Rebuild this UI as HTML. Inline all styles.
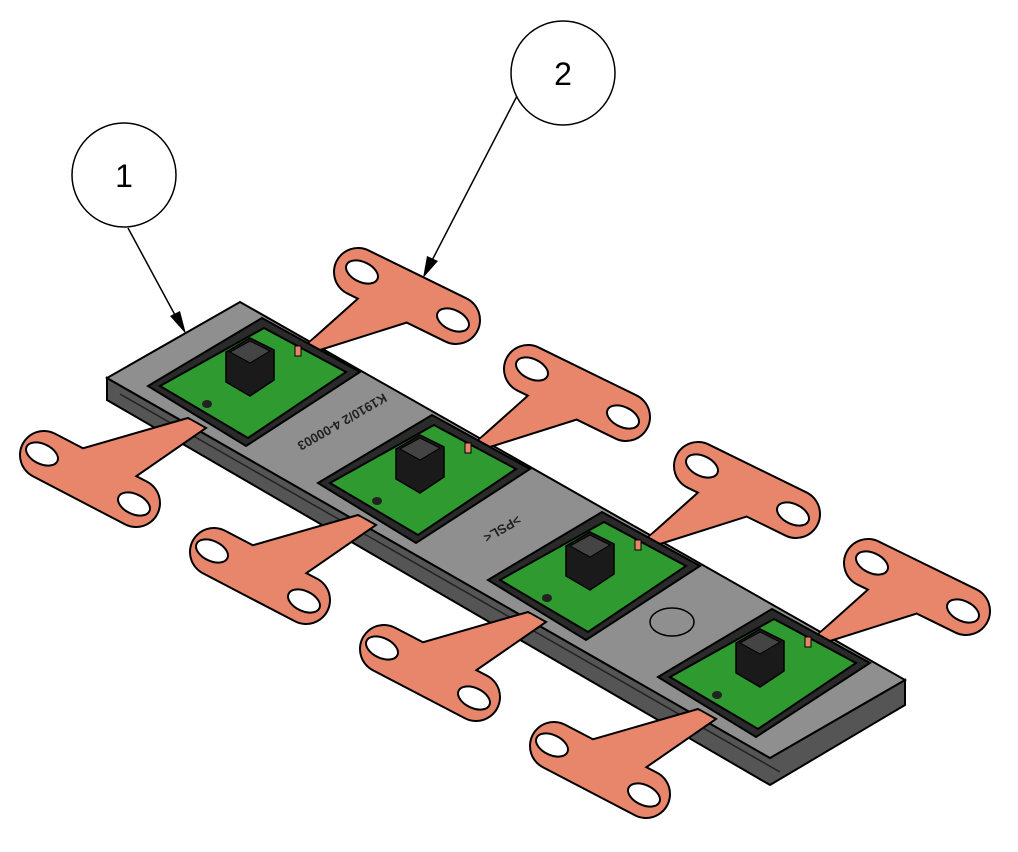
<!DOCTYPE html>
<html><head><meta charset="utf-8"><style>html,body{margin:0;background:#fff}svg{display:block}</style></head>
<body>
<svg width="1018" height="852" viewBox="0 0 1018 852" xmlns="http://www.w3.org/2000/svg" font-family="Liberation Sans, sans-serif">
<defs>
  <g id="backtab">
    <line x1="358" y1="272" x2="456" y2="320" stroke="#000" stroke-width="50" stroke-linecap="round"/>
    <polygon points="296,354 320,350 440,312 372,286" fill="#e8866c" stroke="#000" stroke-width="2"/>
    <line x1="358" y1="272" x2="456" y2="320" stroke="#e8866c" stroke-width="46" stroke-linecap="round"/>
    <polygon points="298,352 318,348 436,312 376,289" fill="#e8866c"/>
    <ellipse cx="362" cy="272" rx="17" ry="10" transform="rotate(25 362 272)" fill="#fff" stroke="#000" stroke-width="2"/>
    <ellipse cx="453" cy="320" rx="17" ry="10" transform="rotate(25 453 320)" fill="#fff" stroke="#000" stroke-width="2"/>
  </g>
  <g id="fronttab">
    <line x1="44" y1="455" x2="136" y2="503" stroke="#000" stroke-width="50" stroke-linecap="round"/>
    <polygon points="188,418 206,428 128,482 70,452" fill="#e8866c" stroke="#000" stroke-width="2"/>
    <line x1="44" y1="455" x2="136" y2="503" stroke="#e8866c" stroke-width="46" stroke-linecap="round"/>
    <polygon points="190,420 204,428 126,480 74,452" fill="#e8866c"/>
    <ellipse cx="42" cy="454" rx="17" ry="10" transform="rotate(25 42 454)" fill="#fff" stroke="#000" stroke-width="2"/>
    <ellipse cx="134" cy="504" rx="17" ry="10" transform="rotate(25 134 504)" fill="#fff" stroke="#000" stroke-width="2"/>
  </g>
  <g id="board">
    <polygon points="148,386 262,318 360,372 246,446" fill="#2a2a2a" stroke="#000" stroke-width="2"/>
    <polygon points="160,386 264,328 346,372 248,438" fill="#2f9a2f" stroke="#000" stroke-width="2"/>
    <polygon points="226,352 250,338 274,350 274,380 250,396 226,382" fill="#1a1a1a" stroke="#000" stroke-width="1.5"/>
    <polygon points="230,352 250,341 270,351 250,363" fill="#444" stroke="#000"/>
    <rect x="295" y="346" width="6" height="10" fill="#e8866c" stroke="#000"/>
    <ellipse cx="207" cy="404" rx="5" ry="4" fill="#222"/>
  </g>
</defs>

<polygon points="107,378 107,400 770,785 905,705 905,680 770,758" fill="#555" stroke="#000" stroke-width="2"/>
<polygon points="107,378 240,302 905,680 770,758" fill="#8f8f8f" stroke="#000" stroke-width="2"/>
<line x1="120" y1="394" x2="780" y2="772" stroke="#222" stroke-width="1.5"/>
<ellipse cx="672" cy="622" rx="22" ry="14" fill="none" stroke="#000" stroke-width="1.5"/>
<text x="340" y="418" font-size="13" font-weight="bold" fill="#222" text-anchor="middle" transform="rotate(150 340 418)">K1910/2 4-00003</text>
<text x="500" y="525" font-size="13" font-weight="bold" fill="#222" text-anchor="middle" transform="rotate(150 500 525)">&gt;PSL&lt;</text>

<use href="#backtab"/>
<use href="#backtab" transform="translate(170,97)"/>
<use href="#backtab" transform="translate(340,194)"/>
<use href="#backtab" transform="translate(510,291)"/>

<use href="#board"/>
<use href="#board" transform="translate(170,97)"/>
<use href="#board" transform="translate(340,194)"/>
<use href="#board" transform="translate(510,291)"/>

<use href="#fronttab"/>
<use href="#fronttab" transform="translate(170,97)"/>
<use href="#fronttab" transform="translate(340,194)"/>
<use href="#fronttab" transform="translate(510,291)"/>

<circle cx="124" cy="175" r="52" fill="#fff" stroke="#000" stroke-width="1.5"/>
<text x="124" y="187" font-size="32" text-anchor="middle">1</text>
<line x1="128" y1="228" x2="182" y2="328" stroke="#000" stroke-width="1.5"/>
<polygon points="186,334 170,316 180,311" fill="#000"/>
<circle cx="563" cy="73" r="52" fill="#fff" stroke="#000" stroke-width="1.5"/>
<text x="563" y="85" font-size="32" text-anchor="middle">2</text>
<line x1="517" y1="96" x2="426" y2="272" stroke="#000" stroke-width="1.5"/>
<polygon points="423,278 427,256 438,261" fill="#000"/>
</svg>
</body></html>
